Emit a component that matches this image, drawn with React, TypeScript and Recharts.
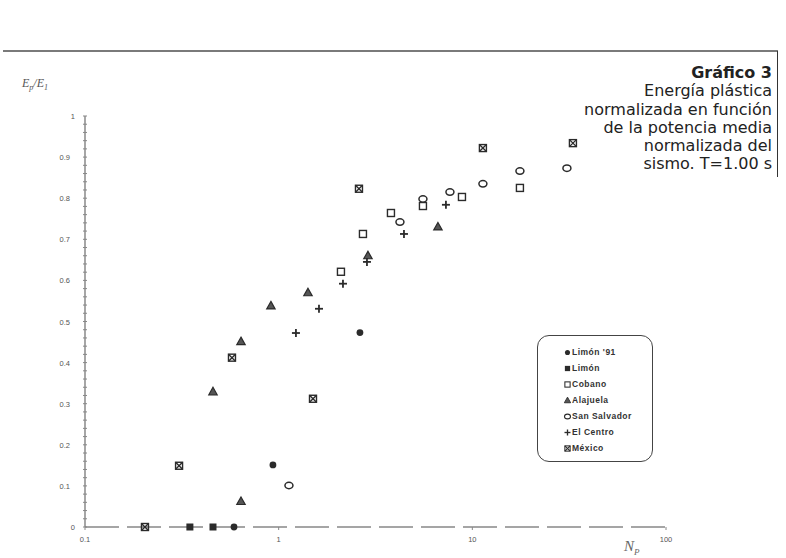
import React from 'react';
import { ScatterChart, Scatter, XAxis, YAxis } from 'recharts';

// tick labels
const xTicks = [0.1, 1, 10, 100];
const yTicks = [0, 0.1, 0.2, 0.3, 0.4, 0.5, 0.6, 0.7, 0.8, 0.9, 1];
const yMinorTicks = [
    0.02, 0.04, 0.06, 0.08, 0.12, 0.14, 0.16, 0.18, 0.22, 0.24, 0.26, 0.28, 0.32, 0.34, 0.36, 0.38,
    0.42, 0.44, 0.46, 0.48, 0.52, 0.54, 0.56, 0.58, 0.62, 0.64, 0.66, 0.68, 0.72, 0.74, 0.76, 0.78,
    0.82, 0.84, 0.86, 0.88, 0.92, 0.94, 0.96, 0.98,
];

const titleLines = [
    'Energía plástica',
    'normalizada en función',
    'de la potencia media',
    'normalizada del',
    'sismo. T=1.00 s',
];

// Np (x) vs Ep/E1 (y), one list per earthquake
const limon91 = [
    { x: 0.588, y: 0 },
    { x: 0.934, y: 0.151 },
    { x: 2.628, y: 0.473 },
];
const limon = [
    { x: 0.348, y: 0 },
    { x: 0.458, y: 0 },
];
const cobano = [
    { x: 2.097, y: 0.621 },
    { x: 2.724, y: 0.713 },
    { x: 3.8, y: 0.764 },
    { x: 5.559, y: 0.781 },
    { x: 8.84, y: 0.803 },
    { x: 17.61, y: 0.825 },
];
const alajuela = [
    { x: 0.458, y: 0.329 },
    { x: 0.639, y: 0.062 },
    { x: 0.639, y: 0.451 },
    { x: 0.912, y: 0.538 },
    { x: 1.417, y: 0.57 },
    { x: 2.891, y: 0.66 },
    { x: 6.644, y: 0.73 },
];
const sanSalvador = [
    { x: 1.13, y: 0.101 },
    { x: 4.229, y: 0.742 },
    { x: 5.559, y: 0.798 },
    { x: 7.663, y: 0.815 },
    { x: 11.34, y: 0.835 },
    { x: 17.61, y: 0.866 },
    { x: 30.79, y: 0.873 },
];
const elCentro = [
    { x: 1.228, y: 0.472 },
    { x: 1.615, y: 0.531 },
    { x: 2.148, y: 0.592 },
    { x: 2.857, y: 0.645 },
    { x: 4.436, y: 0.713 },
    { x: 7.306, y: 0.784 },
];
const mexico = [
    { x: 0.204, y: 0 },
    { x: 0.306, y: 0.149 },
    { x: 0.574, y: 0.412 },
    { x: 1.504, y: 0.312 },
    { x: 2.598, y: 0.823 },
    { x: 11.34, y: 0.922 },
    { x: 33.07, y: 0.934 },
];

const INK = '#2b2b2b';

const Marker = ({ kind, cx, cy }: { kind: string; cx: number; cy: number }) => {
    switch (kind) {
        case 'dot':
            return <circle cx={cx} cy={cy} r={3.4} fill={INK} />;
        case 'fill':
            return <rect x={cx - 3.5} y={cy - 3.5} width={7} height={7} fill={INK} />;
        case 'box':
            return <rect x={cx - 3.5} y={cy - 3.5} width={7} height={7} fill="none" stroke={INK} strokeWidth={1.4} />;
        case 'tri':
            return (
                <polygon
                    points={`${cx},${cy - 4.5} ${cx + 4.2},${cy + 3} ${cx - 4.2},${cy + 3}`}
                    fill="#555"
                    stroke={INK}
                    strokeWidth={1.2}
                />
            );
        case 'ring':
            return <ellipse cx={cx} cy={cy} rx={4} ry={3.2} fill="none" stroke={INK} strokeWidth={1.5} />;
        case 'plus':
            return (
                <g stroke={INK} strokeWidth={1.8}>
                    <line x1={cx - 4} y1={cy} x2={cx + 4} y2={cy} />
                    <line x1={cx} y1={cy - 4} x2={cx} y2={cy + 4} />
                </g>
            );
        default:
            return (
                <g stroke={INK} strokeWidth={1.4} fill="none">
                    <rect x={cx - 3.5} y={cy - 3.5} width={7} height={7} />
                    <line x1={cx - 3.5} y1={cy - 3.5} x2={cx + 3.5} y2={cy + 3.5} />
                    <line x1={cx + 3.5} y1={cy - 3.5} x2={cx - 3.5} y2={cy + 3.5} />
                </g>
            );
    }
};

const series = [
    { name: "Limón '91", data: limon91, kind: 'dot' },
    { name: 'Limón', data: limon, kind: 'fill' },
    { name: 'Cobano', data: cobano, kind: 'box' },
    { name: 'Alajuela', data: alajuela, kind: 'tri' },
    { name: 'San Salvador', data: sanSalvador, kind: 'ring' },
    { name: 'El Centro', data: elCentro, kind: 'plus' },
    { name: 'México', data: mexico, kind: 'xbox' },
];

const LegendBox = () => (
    <div
        style={{
            position: 'absolute',
            left: 537,
            top: 335,
            width: 116,
            height: 127,
            boxSizing: 'border-box',
            border: '1.5px solid #444',
            borderRadius: 12,
            padding: '8px 0 0 25px',
        }}
    >
        {series.map((s) => (
            <div key={s.name} style={{ display: 'flex', alignItems: 'center', height: 16 }}>
                <svg width={9} height={9}>
                    <g transform="translate(4.5,4.5) scale(0.75) translate(-4.5,-4.5)">
                        <Marker kind={s.kind} cx={4.5} cy={4.5} />
                    </g>
                </svg>
                <span
                    style={{
                        fontFamily: 'Liberation Sans, Arial, sans-serif',
                        fontSize: 8.5,
                        fontWeight: 'bold',
                        color: '#333',
                        letterSpacing: 0.5,
                    }}
                >
                    {s.name}
                </span>
            </div>
        ))}
    </div>
);

const YTick = (props: any) => {
    const { x, y, payload } = props;
    const major = yTicks.some((t) => Math.abs(t - payload.value) < 1e-6);
    const whole = payload.value === 0 || payload.value === 1;
    return (
        <g>
            <line x1={x - 2} y1={y} x2={x + 2} y2={y} stroke="#888" strokeWidth={1} />
            {major && (
                <text
                    x={whole ? x - 10 : x - 15}
                    y={y + 3}
                    textAnchor="end"
                    fontSize={7.5}
                    fill="#555"
                    fontFamily="Liberation Sans, Arial"
                >
                    {payload.value}
                </text>
            )}
        </g>
    );
};

const App = () => {
    const allYTicks = [...yTicks, ...yMinorTicks].sort((a, b) => a - b);
    return (
        <div style={{ position: 'absolute', left: 0, top: 0, width: 786, height: 558, background: '#fff' }}>
            <div style={{ position: 'absolute', left: 3, top: 50, width: 775, height: 2, background: '#7a7a7a' }} />
            <div style={{ position: 'absolute', left: 777, top: 51, width: 1, height: 126, background: '#333' }} />
            <div
                style={{
                    position: 'absolute',
                    right: 786 - 772,
                    top: 64,
                    textAlign: 'right',
                    fontFamily: 'DejaVu Sans, sans-serif',
                    fontSize: 16,
                    lineHeight: '18.3px',
                    color: '#222',
                    whiteSpace: 'nowrap',
                }}
            >
                <div style={{ fontWeight: 'bold' }}>Gráfico 3</div>
                {titleLines.map((t) => (
                    <div key={t}>{t}</div>
                ))}
            </div>
            <div
                style={{
                    position: 'absolute',
                    left: 22,
                    top: 76,
                    fontFamily: 'Liberation Serif, serif',
                    fontStyle: 'italic',
                    fontSize: 12,
                    color: '#555',
                }}
            >
                E<sub style={{ fontSize: 8 }}>p</sub>/E<sub style={{ fontSize: 8 }}>1</sub>
            </div>
            <div
                style={{
                    position: 'absolute',
                    left: 624,
                    top: 538,
                    fontFamily: 'Liberation Serif, serif',
                    fontStyle: 'italic',
                    fontSize: 15,
                    color: '#666',
                }}
            >
                N<sub style={{ fontSize: 9 }}>P</sub>
            </div>
            <ScatterChart
                width={786}
                height={558}
                margin={{ top: 116, right: 120, bottom: 6, left: 45 }}
                style={{ position: 'absolute', left: 0, top: 0 }}
            >
                <XAxis
                    type="number"
                    dataKey="x"
                    scale="log"
                    domain={[0.1, 100]}
                    ticks={xTicks}
                    allowDataOverflow
                    height={25}
                    tickSize={3}
                    tickMargin={7}
                    tick={{ fontSize: 7.5, fill: '#555', fontFamily: 'Liberation Sans, Arial' }}
                    tickLine={{ stroke: '#888' }}
                    axisLine={{ stroke: '#888', strokeWidth: 1.3, strokeDasharray: '34 8' }}
                />
                <YAxis
                    type="number"
                    dataKey="y"
                    domain={[0, 1]}
                    ticks={allYTicks}
                    interval={0}
                    width={40}
                    tickSize={0}
                    tickMargin={0}
                    tickLine={false}
                    tick={<YTick />}
                    axisLine={{ stroke: '#777', strokeWidth: 1.3 }}
                />
                {series.map((s) => (
                    <Scatter
                        key={s.name}
                        name={s.name}
                        data={s.data}
                        isAnimationActive={false}
                        shape={(p: any) => <Marker kind={s.kind} cx={p.cx} cy={p.cy} />}
                    />
                ))}
            </ScatterChart>
            <LegendBox />
        </div>
    );
};

export default App;
